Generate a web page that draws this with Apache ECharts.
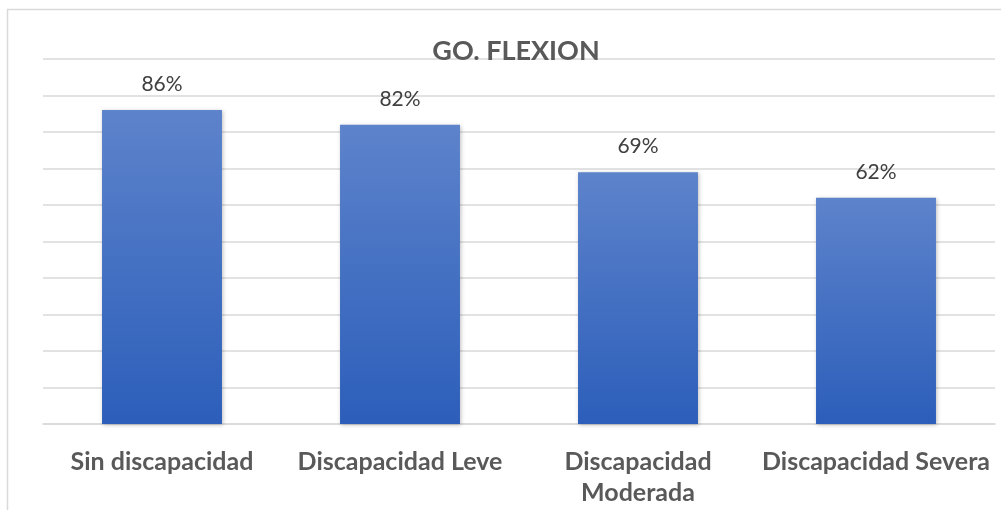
<!DOCTYPE html>
<html>
<head>
<meta charset="utf-8">
<script src="https://cdn.jsdelivr.net/npm/echarts@6/dist/echarts.min.js"></script>
<style>
  html, body { margin: 0; padding: 0; background: #ffffff; }
  #chart { width: 1001px; height: 510px; }
</style>
</head>
<body>
<div id="chart"></div>
<script>
// Share of patients by disability level (GO. FLEXION)
const categories = ['Sin discapacidad', 'Discapacidad Leve', 'Discapacidad\nModerada', 'Discapacidad Severa'];
const values = [0.86, 0.82, 0.69, 0.62];
const chartTitle = 'GO. FLEXION';

const chart = echarts.init(document.getElementById('chart'), null, { renderer: 'canvas' });

const font = 'Lato, "Open Sans", sans-serif';

chart.setOption({
  animation: false,
  backgroundColor: '#ffffff',
  graphic: [{
    type: 'rect',
    shape: { x: 7.5, y: 9.5, width: 1010, height: 520 },
    style: { fill: 'none', stroke: '#d9d9d9', lineWidth: 1.5 },
    silent: true,
    z: -1
  }],
  title: {
    text: chartTitle,
    left: 511,
    textAlign: 'center',
    top: 33,
    textStyle: { fontFamily: font, fontWeight: 'bold', fontSize: 27, color: '#595959' }
  },
  grid: { left: 43, right: 6, top: 59, bottom: 86, containLabel: false },
  xAxis: {
    type: 'category',
    data: categories,
    axisLine: { show: true, lineStyle: { color: '#d9d9d9', width: 1.5 } },
    axisTick: { show: false },
    axisLabel: {
      interval: 0,
      margin: 22,
      fontFamily: font,
      fontWeight: 'bold',
      fontSize: 25,
      lineHeight: 31,
      color: '#595959'
    }
  },
  yAxis: {
    type: 'value',
    min: 0,
    max: 1,
    interval: 0.1,
    axisLine: { show: false },
    axisTick: { show: false },
    axisLabel: { show: false },
    splitLine: { lineStyle: { color: '#d9d9d9', width: 1.5 } }
  },
  series: [{
    type: 'bar',
    data: values,
    barWidth: '50.4%',
    itemStyle: {
      color: new echarts.graphic.LinearGradient(0, 0, 0, 1, [
        { offset: 0, color: '#5d83cb' },
        { offset: 1, color: '#2c5eba' }
      ]),
      shadowColor: 'rgba(0,0,0,0.25)',
      shadowBlur: 4,
      shadowOffsetX: 1,
      shadowOffsetY: 1
    },
    label: {
      show: true,
      position: 'top',
      distance: 15,
      fontFamily: font,
      fontSize: 21,
      color: '#404040',
      formatter: p => Math.round(p.value * 100) + '%'
    }
  }]
});
</script>
</body>
</html>
